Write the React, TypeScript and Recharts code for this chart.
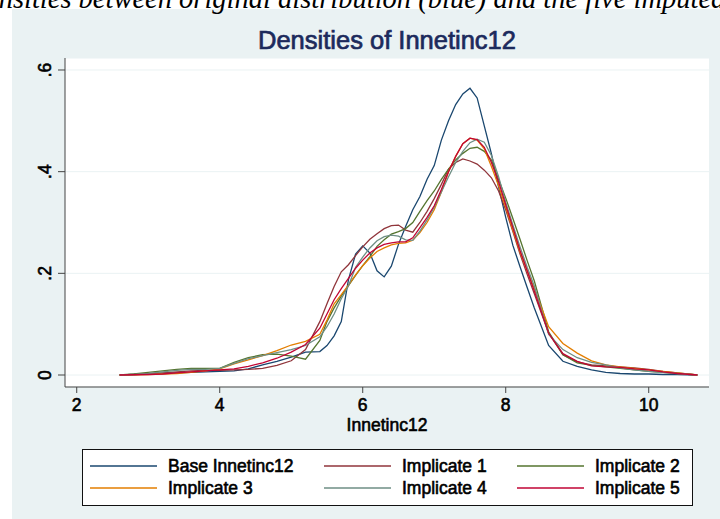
import { CartesianGrid, Line, LineChart, XAxis, YAxis } from "recharts";

// kdensity evaluation points (Innetinc12)
const xs = [
  2.6, 2.8, 3.0, 3.2, 3.4, 3.6, 3.8, 4.0, 4.2, 4.4, 4.6, 4.8, 5.0, 5.2, 5.4,
  5.5, 5.6, 5.7, 5.8, 5.9, 6.0, 6.1, 6.2, 6.3, 6.4,
  6.5, 6.6, 6.7, 6.8, 6.9, 7.0, 7.1, 7.2, 7.3, 7.4,
  7.5, 7.6, 7.7, 7.8, 7.9, 8.0, 8.1, 8.2, 8.3, 8.4,
  8.6, 8.8, 9.0, 9.2, 9.4, 9.6, 9.8, 10.0, 10.2, 10.4, 10.68,
];

const baseInnetinc = [
  0, 0.001, 0.002, 0.003, 0.004, 0.005, 0.006, 0.007, 0.008, 0.012, 0.02, 0.027, 0.035, 0.045, 0.046,
  0.058, 0.077, 0.105, 0.187, 0.238, 0.254, 0.24, 0.205, 0.193, 0.214,
  0.257, 0.292, 0.325, 0.351, 0.385, 0.412, 0.462, 0.5, 0.532, 0.553,
  0.564, 0.545, 0.49, 0.435, 0.37, 0.31, 0.255, 0.213, 0.172, 0.132,
  0.058, 0.027, 0.017, 0.01, 0.005, 0.003, 0.002, 0.002, 0.001, 0.001, 0,
];

const implicate1 = [
  0, 0.001, 0.002, 0.004, 0.006, 0.008, 0.009, 0.009, 0.01, 0.011, 0.013, 0.019, 0.028, 0.05, 0.105,
  0.14, 0.174, 0.203, 0.217, 0.235, 0.252, 0.267, 0.278, 0.288, 0.294,
  0.295, 0.285, 0.281, 0.3, 0.322, 0.347, 0.375, 0.405, 0.418, 0.425,
  0.421, 0.415, 0.403, 0.388, 0.362, 0.325, 0.282, 0.238, 0.198, 0.16,
  0.082, 0.04, 0.026, 0.02, 0.018, 0.016, 0.014, 0.011, 0.007, 0.004, 0,
];

const implicate2 = [
  0, 0.002, 0.005, 0.008, 0.011, 0.013, 0.013, 0.013, 0.025, 0.034, 0.04, 0.041, 0.037, 0.031, 0.068,
  0.105, 0.132, 0.155, 0.176, 0.196, 0.215, 0.233, 0.253, 0.266, 0.277,
  0.282, 0.288, 0.3, 0.322, 0.343, 0.362, 0.385, 0.405, 0.423, 0.436,
  0.446, 0.448, 0.44, 0.423, 0.385, 0.348, 0.308, 0.267, 0.225, 0.185,
  0.085, 0.04, 0.024, 0.019, 0.016, 0.013, 0.01, 0.007, 0.005, 0.003, 0,
];

const implicate3 = [
  0, 0.0005, 0.001, 0.002, 0.003, 0.005, 0.008, 0.012, 0.022, 0.03, 0.038, 0.048, 0.059, 0.066, 0.08,
  0.108, 0.14, 0.158, 0.177, 0.197, 0.215, 0.23, 0.243, 0.25, 0.256,
  0.259, 0.26, 0.265, 0.28, 0.3, 0.325, 0.36, 0.4, 0.43, 0.455,
  0.466, 0.462, 0.445, 0.41, 0.372, 0.33, 0.285, 0.242, 0.205, 0.17,
  0.095, 0.062, 0.043, 0.028, 0.02, 0.016, 0.013, 0.01, 0.007, 0.004, 0,
];

const implicate4 = [
  0, 0.001, 0.003, 0.006, 0.009, 0.011, 0.011, 0.013, 0.023, 0.032, 0.038, 0.044, 0.05, 0.058, 0.075,
  0.095, 0.12, 0.15, 0.175, 0.212, 0.232, 0.25, 0.264, 0.272, 0.275,
  0.273, 0.266, 0.265, 0.283, 0.305, 0.33, 0.36, 0.39, 0.418, 0.44,
  0.457, 0.464, 0.458, 0.432, 0.39, 0.34, 0.295, 0.252, 0.212, 0.175,
  0.08, 0.05, 0.034, 0.025, 0.02, 0.014, 0.01, 0.007, 0.005, 0.003, 0,
];

const implicate5 = [
  0, 0.0005, 0.001, 0.002, 0.004, 0.006, 0.008, 0.01, 0.012, 0.017, 0.024, 0.033, 0.045, 0.06, 0.092,
  0.12, 0.148, 0.17, 0.19, 0.21, 0.226, 0.24, 0.25, 0.257, 0.26,
  0.262, 0.262, 0.27, 0.29, 0.31, 0.333, 0.365, 0.4, 0.43, 0.455,
  0.466, 0.463, 0.448, 0.418, 0.38, 0.335, 0.29, 0.245, 0.205, 0.165,
  0.082, 0.042, 0.027, 0.018, 0.016, 0.015, 0.012, 0.01, 0.006, 0.003, 0,
];

const SERIES = [
  { key: "base", name: "Base Innetinc12", color: "#1a476f", values: baseInnetinc },
  { key: "imp1", name: "Implicate 1", color: "#90353b", values: implicate1 },
  { key: "imp2", name: "Implicate 2", color: "#55752f", values: implicate2 },
  { key: "imp3", name: "Implicate 3", color: "#e37e00", values: implicate3 },
  { key: "imp4", name: "Implicate 4", color: "#6e8e84", values: implicate4 },
  { key: "imp5", name: "Implicate 5", color: "#c10534", values: implicate5 },
];

const xTicks = [2, 4, 6, 8, 10];
const yTicks = [0, 0.2, 0.4, 0.6];

const rows = xs.map((x, i) => {
  const row: Record<string, number> = { x };
  SERIES.forEach((s) => {
    row[s.key] = s.values[i];
  });
  return row;
});

const FONT = "'Liberation Sans', Arial, sans-serif";
const textStyle = { fontFamily: FONT, fontSize: 17.5, fill: "#000", stroke: "#000", strokeWidth: 0.6 };

function XTick({ x, y, payload }: any) {
  return (
    <text x={x} y={y + 18} textAnchor="middle" style={textStyle}>
      {payload.value}
    </text>
  );
}

function YTick({ x, y, payload }: any) {
  const v = payload.value;
  const label = v === 0 ? "0" : String(v).replace(/^0/, "");
  const bx = x - 7;
  return (
    <text x={bx} y={y} transform={`rotate(-90 ${bx} ${y})`} textAnchor="middle" style={textStyle}>
      {label}
    </text>
  );
}

const legendCols = [90, 324, 517];
const legendRows = [466, 488];

export default function App() {
  return (
    <div style={{ position: "absolute", left: 0, top: 0, width: 720, height: 519, background: "#fff", overflow: "hidden" }}>
      <div style={{ position: "absolute", left: 12, top: 9, width: 708, height: 510, background: "#eaf2f3" }} />
      <div style={{ position: "absolute", left: 0, top: 0 }}>
        <LineChart width={720} height={519} data={rows} margin={{ top: 58, right: 11, left: 0, bottom: 82 }}>
          <CartesianGrid vertical={false} stroke="#eaf2f3" fill="#fff" />
          <XAxis
            dataKey="x"
            type="number"
            domain={[1.836, 10.843]}
            allowDataOverflow
            ticks={xTicks}
            interval={0}
            height={50}
            tickSize={6}
            tickMargin={0}
            axisLine={{ stroke: "#444" }}
            tickLine={{ stroke: "#444" }}
            tick={<XTick />}
          />
          <YAxis
            type="number"
            domain={[-0.0236, 0.6236]}
            allowDataOverflow
            ticks={yTicks}
            interval={0}
            width={65}
            tickSize={7}
            tickMargin={0}
            axisLine={{ stroke: "#444" }}
            tickLine={{ stroke: "#444" }}
            tick={<YTick />}
          />
          {SERIES.map((s) => (
            <Line
              key={s.key}
              dataKey={s.key}
              name={s.name}
              type="linear"
              stroke={s.color}
              strokeWidth={1.3}
              dot={false}
              isAnimationActive={false}
            />
          ))}
        </LineChart>
      </div>
      <svg width={720} height={519} style={{ position: "absolute", left: 0, top: 0, pointerEvents: "none" }}>
        <text
          x={-14}
          y={8}
          style={{ fontFamily: "'Liberation Serif', 'DejaVu Serif', serif", fontStyle: "italic", fontSize: 28.5, fill: "#000" }}
        >
          ensities between original distribution (blue) and the five imputed
        </text>
        <text
          x={387}
          y={49}
          textAnchor="middle"
          style={{ fontFamily: FONT, fontSize: 25.5, fill: "#1c2a5c", stroke: "#1c2a5c", strokeWidth: 0.7 }}
        >
          Densities of Innetinc12
        </text>
        <text x={387} y={431} textAnchor="middle" style={textStyle}>
          Innetinc12
        </text>
        <rect x={82.5} y={449.5} width={610} height={56} fill="#fff" stroke="#111" strokeWidth={1} />
        {SERIES.map((s, i) => {
          const cx = legendCols[i % 3];
          const cy = legendRows[Math.floor(i / 3)];
          return (
            <g key={s.key}>
              <line x1={cx} x2={cx + 67} y1={cy} y2={cy} stroke={s.color} strokeWidth={1.3} />
              <text x={cx + 78} y={cy + 6} style={textStyle}>
                {s.name}
              </text>
            </g>
          );
        })}
      </svg>
    </div>
  );
}
